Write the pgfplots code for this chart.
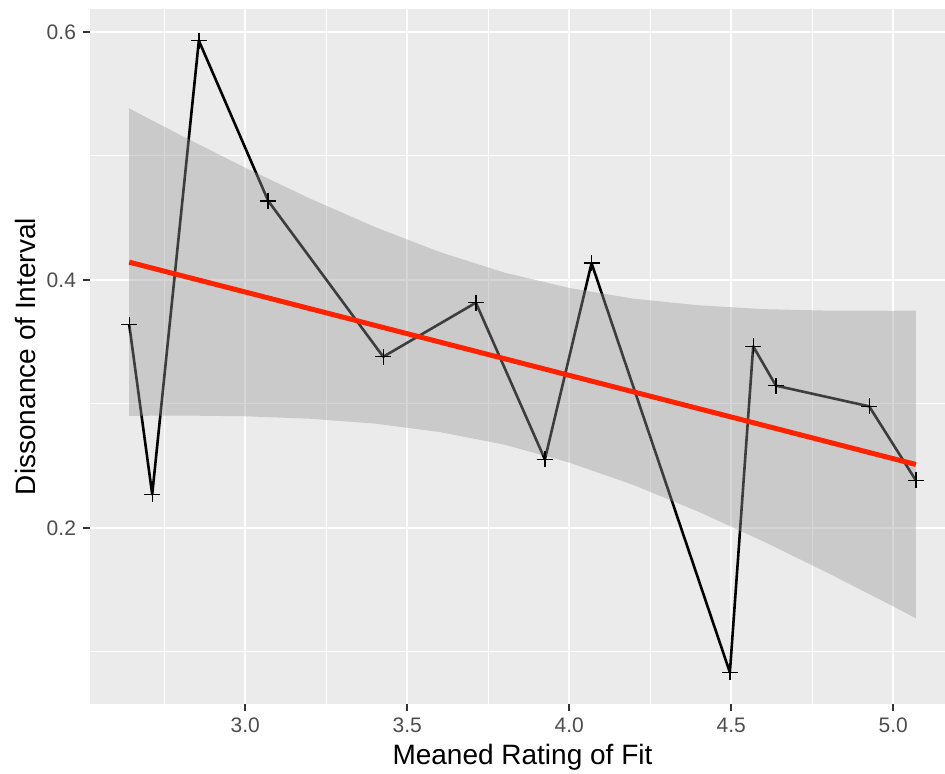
\documentclass[border=0pt]{standalone}
\usepackage{fontspec}
\setmainfont{Liberation Sans}
\usepackage{pgfplots}
\pgfplotsset{compat=1.18}
\definecolor{panelbg}{HTML}{EBEBEB}
\definecolor{ribbon}{HTML}{999999}
\definecolor{ticklab}{HTML}{4D4D4D}
\definecolor{tickmk}{HTML}{333333}
\definecolor{fitred}{HTML}{FF2200}
\begin{document}
\begin{tikzpicture}
\begin{axis}[
    scale only axis, width=427.5pt, height=347.5pt,
    xmin=2.521, xmax=5.160, ymin=0.0579, ymax=0.6185,
    axis line style={draw=none},
    axis background/.style={fill=panelbg},
    xtick={3,3.5,4,4.5,5}, xticklabels={3.0,3.5,4.0,4.5,5.0},
    ytick={0.2,0.4,0.6}, yticklabels={0.2,0.4,0.6},
    minor xtick={2.75,3.25,3.75,4.25,4.75},
    minor ytick={0.1,0.3,0.5},
    grid=both,
    major grid style={white, line width=1.1pt},
    minor grid style={white, line width=0.55pt},
    tick align=outside, xtick pos=lower, ytick pos=left,
    major tick length=3.5pt, minor tick length=0pt,
    tick style={tickmk, line width=1pt},
    ticklabel style={font=\fontsize{10.5}{12}\selectfont, text=ticklab},
    xlabel={Meaned Rating of Fit},
    ylabel={Dissonance of Interval},
    xlabel style={font=\fontsize{14}{16}\selectfont, at={(axis description cs:0.5058,-0.0763)}, anchor=center},
    ylabel style={font=\fontsize{14}{16}\selectfont, at={(axis description cs:-0.076,0.5)}, anchor=center, rotate=0},
]
% observed values
\addplot[black, line width=1.3pt, line join=round, mark=+, mark size=4pt,
         mark options={line width=0.7pt}] coordinates {
    (2.642,0.364) (2.713,0.227) (2.857,0.593) (3.071,0.4637) (3.426,0.338)
    (3.712,0.3816) (3.925,0.2552) (4.069,0.4135) (4.496,0.0834) (4.568,0.3464)
    (4.638,0.3147) (4.926,0.298) (5.070,0.2383)
};
% confidence band
\addplot[draw=none, fill=ribbon, fill opacity=0.4] coordinates {
    (2.642,0.5383) (2.8,0.5168) (3.0,0.4905) (3.2,0.4656) (3.4,0.4427)
    (3.6,0.4225) (3.8,0.4059) (4.0,0.3935) (4.2,0.3848) (4.4,0.3795)
    (4.6,0.3764) (4.8,0.3752) (5.0,0.3751) (5.070,0.3752)
    (5.070,0.1270) (5.0,0.1367) (4.8,0.1634) (4.6,0.1890) (4.4,0.2129)
    (4.2,0.2344) (4.0,0.2527) (3.8,0.2671) (3.6,0.2773) (3.4,0.2841)
    (3.2,0.2880) (3.0,0.2900) (2.8,0.2906) (2.642,0.2903)
} -- cycle;
% linear fit
\addplot[fitred, line width=2.5pt] coordinates {(2.642,0.4143) (5.070,0.2511)};
\end{axis}
\pgfresetboundingbox
\path (-45pt,-34.5pt) rectangle (427.5pt,352pt);
\end{tikzpicture}
\end{document}
